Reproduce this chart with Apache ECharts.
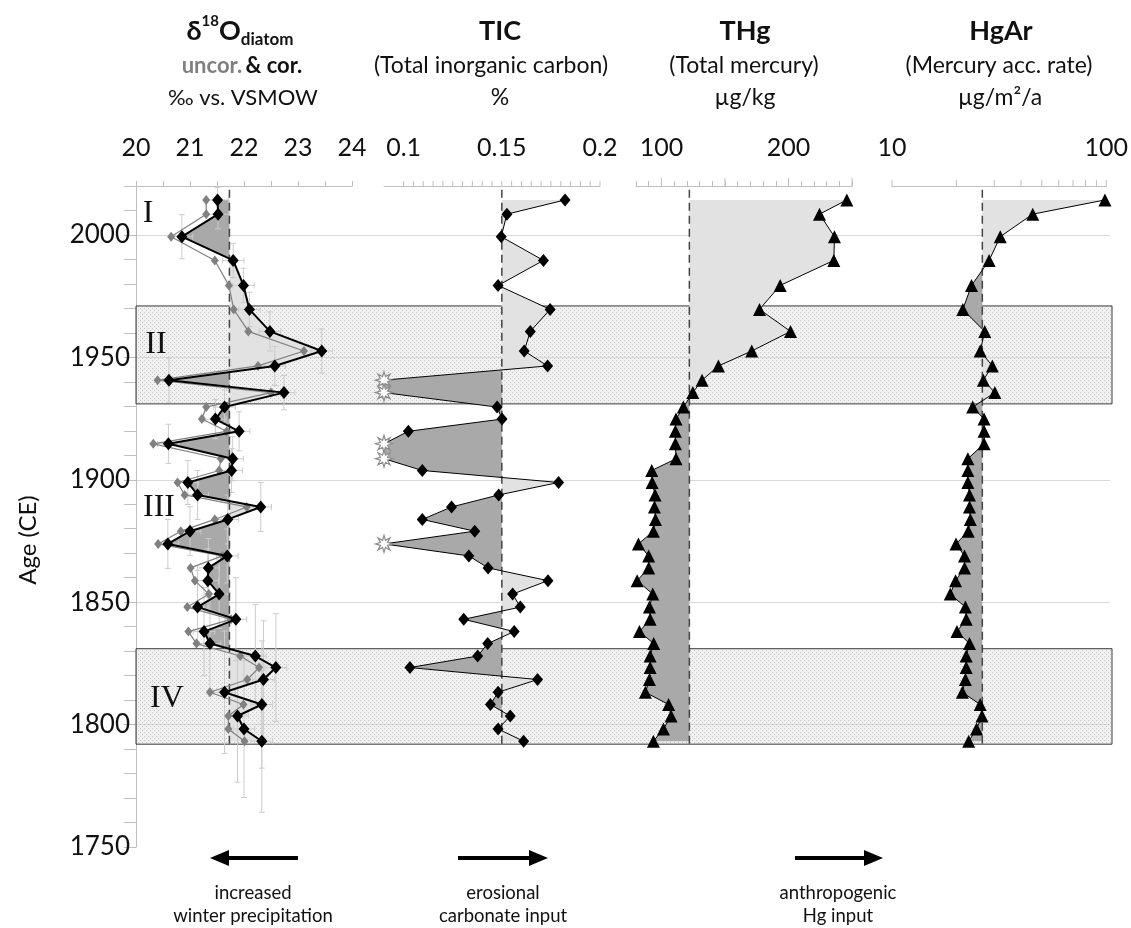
<!DOCTYPE html>
<html><head><meta charset="utf-8">
<script src="https://cdn.jsdelivr.net/npm/echarts@6/dist/echarts.min.js"></script>
<style>html,body{margin:0;padding:0;background:#fff}#c{width:1131px;height:928px}</style>
</head><body><div id="c"></div>
<script>
// ---------------- DATA ----------------
const ages = [2014.3, 2008.5, 1999.3, 1989.6, 1979.4, 1969.6, 1960.6, 1952.6, 1946.5, 1940.7, 1935.6, 1929.7, 1924.8, 1919.8, 1914.7, 1908.6, 1903.8, 1898.9, 1893.8, 1888.9, 1883.8, 1879.0, 1873.8, 1868.9, 1864.0, 1858.8, 1853.3, 1848.0, 1843.0, 1838.0, 1833.1, 1828.0, 1823.3, 1818.4, 1813.2, 1808.2, 1803.5, 1798.2, 1793.2];
const d18oCor = [21.51, 21.52, 20.85, 21.80, 21.99, 22.10, 22.48, 23.44, 22.57, 20.61, 22.74, 21.64, 21.47, 21.91, 20.60, 21.79, 21.77, 20.96, 21.14, 22.31, 21.70, 21.00, 20.59, 21.69, 21.34, 21.33, 21.54, 21.14, 21.85, 21.26, 21.37, 22.21, 22.59, 22.36, 21.64, 22.33, 21.88, 22.00, 22.33];
const d18oUncor = [21.30, 21.30, 20.65, 21.46, 21.72, 21.81, 22.08, 23.11, 22.26, 20.40, 22.50, 21.30, 21.22, 21.68, 20.32, 21.57, 21.54, 20.77, 20.90, 22.05, 21.46, 20.83, 20.41, 21.60, 21.01, 21.09, 21.35, 20.95, 21.76, 20.97, 21.12, 21.93, 22.28, 22.06, 21.37, 21.99, 21.71, 21.71, 22.01];
const d18oAgeErr = [5, 6, 9, 7, 7, 7, 8, 9, 8, 9, 7, 7, 8, 8, 8, 9, 9, 9, 10, 10, 10, 10, 10, 11, 12, 13, 14, 15, 17, 18, 19, 21, 22, 24, 25, 26, 27, 28, 29];
const d18oValErr = 0.2;
const ticValues = [0.1822, 0.1526, 0.1497, 0.1712, 0.1481, 0.1746, 0.1645, 0.1614, 0.1733, 'BDL', 'BDL', 0.1476, 0.1501, 0.1024, 'BDL', 'BDL', 0.1095, 0.1789, 0.1484, 0.1244, 0.1095, 0.1362, 'BDL', 0.1332, 0.1430, 0.1735, 0.1555, 0.1594, 0.1306, 0.1563, 0.1428, 0.1377, 0.1032, 0.1682, 0.1481, 0.1442, 0.1543, 0.1481, 0.1611];
const thgValues = [245.9, 224.4, 236.2, 235.7, 193.5, 177.2, 201.6, 171.1, 144.9, 132.0, 124.7, 117.3, 111.5, 111.0, 111.0, 111.5, 92.4, 92.7, 95.0, 94.5, 95.3, 93.7, 81.9, 90.0, 90.0, 80.9, 93.2, 90.6, 91.1, 82.7, 93.9, 91.1, 91.1, 90.6, 87.4, 105.7, 107.6, 101.6, 93.7];
const hgarValues = [98.6, 45.4, 32.0, 28.4, 23.5, 21.4, 27.1, 25.8, 29.4, 26.7, 30.2, 23.8, 26.9, 26.9, 26.9, 22.6, 22.6, 22.6, 23.0, 23.0, 23.2, 22.7, 19.9, 21.8, 21.8, 19.8, 18.7, 22.0, 22.2, 20.1, 23.0, 22.2, 22.2, 22.0, 21.3, 25.8, 26.3, 24.8, 22.8];
const meanD18o = 21.73, meanTic = 0.15, meanThg = 122, meanHgar = 26.4;
const zoneBands = [{label: 'II', from: 1931, to: 1971}, {label: 'IV', from: 1792, to: 1831}];
const zoneLabels = ['I', 'II', 'III', 'IV'];
const ageTickLabels = [1750, 1800, 1850, 1900, 1950, 2000];
const d18oTickLabels = [20, 21, 22, 23, 24];
const ticTickLabels = [0.1, 0.15, 0.2];
const ticTicks = [0.1, 0.105, 0.11, 0.115, 0.12, 0.125, 0.13, 0.135, 0.14, 0.145, 0.15, 0.155, 0.16, 0.165, 0.17, 0.175, 0.18, 0.185, 0.19, 0.195, 0.2];
const thgTickLabels = [100, 200];
const thgMajorTicks = [100, 150, 200, 250];
const hgarTicks = [10, 20, 30, 40, 50, 60, 70, 80, 90, 100];

// ---------------- STYLE ----------------
const FONT = 'Lato, "Open Sans", sans-serif';
const AX = '#bfbfbf';
const DARK = '#a9a9a9', LIGHT = '#e2e2e2';
const Y_MIN = 1750, Y_MAX = 2020, TIC_MIN = 0.09;
const STAR = 'path://M10 0 L11.72 5.84 L17.07 2.93 L14.16 8.28 L20 10 L14.16 11.72 L17.07 17.07 L11.72 14.16 L10 20 L8.28 14.16 L2.93 17.07 L5.84 11.72 L0 10 L5.84 8.28 L2.93 2.93 L8.28 5.84 Z';

const pat = document.createElement('canvas'); pat.width = 4; pat.height = 4;
const pg = pat.getContext('2d');
pg.fillStyle = 'rgba(215,215,215,0.35)'; pg.fillRect(0, 0, 4, 4);
pg.fillStyle = 'rgba(140,140,140,0.45)'; pg.fillRect(0, 0, 1, 1); pg.fillRect(2, 2, 1, 1);

const ticPlotVals = ticValues.map(v => v === 'BDL' ? TIC_MIN : v);

function fmtLabels(list) {
  return v => { const l = list.find(x => Math.abs(x - v) < 1e-9); return l === undefined ? '' : String(l); };
}
const LBL = {margin: 26, fontSize: 25, color: '#111', fontFamily: FONT};
function topAxis(grid, extra) {
  return Object.assign({
    gridIndex: grid, type: 'value', position: 'top',
    axisLine: {show: true, onZero: false, lineStyle: {color: AX, width: 1}},
    axisTick: {show: true, length: 5, inside: false, lineStyle: {color: AX}},
    splitLine: {show: false},
    axisLabel: Object.assign({show: true}, LBL)
  }, extra);
}
function hiddenY(grid) {
  return {gridIndex: grid, type: 'value', min: Y_MIN, max: Y_MAX, show: false};
}
function fillSeries(p, values, mean) {
  return {
    type: 'custom', xAxisIndex: p, yAxisIndex: p + 1, z: 2, silent: true, clip: false,
    data: [[0]],
    renderItem(params, api) {
      const pts = values.map((v, i) => api.coord([v, ages[i]]));
      const X = api.coord([mean, ages[0]])[0];
      const children = [];
      let run = [], side = null;
      const flush = () => {
        if (run.length < 1) return;
        const poly = [[X, run[0][1]]].concat(run, [[X, run[run.length - 1][1]]]);
        children.push({type: 'polygon', shape: {points: poly}, style: {fill: side < 0 ? DARK : LIGHT}});
      };
      for (let i = 0; i < pts.length; i++) {
        const pt = pts[i]; const s = pt[0] < X ? -1 : 1;
        if (side === null) { side = s; run = [pt]; continue; }
        if (s !== side) {
          const q = pts[i - 1]; const t = (X - q[0]) / (pt[0] - q[0]);
          const c = [X, q[1] + t * (pt[1] - q[1])];
          run.push(c); flush(); side = s; run = [c, pt];
        } else run.push(pt);
      }
      flush();
      return {type: 'group', children};
    }
  };
}
function meanLine(p, mean) {
  return {type: 'line', xAxisIndex: p, yAxisIndex: p + 1, z: 3, silent: true, symbol: 'none', clip: false,
    data: [[mean, Y_MAX - 1.5], [mean, ages[ages.length - 1] - 3]],
    lineStyle: {color: '#444', width: 1.5, type: [8, 5]}};
}
function tickSeries(p, vals, len) {
  return {type: 'custom', xAxisIndex: p, yAxisIndex: p + 1, z: 3, silent: true, clip: false,
    data: vals.map(v => [v]),
    renderItem(params, api) {
      const c = api.coord([api.value(0), Y_MAX]);
      return {type: 'line', shape: {x1: c[0], y1: c[1], x2: c[0], y2: c[1] - len}, style: {stroke: AX, lineWidth: 1}};
    }};
}
function profileLine(p, data, color, width, symbol, size, z) {
  return {type: 'line', xAxisIndex: p, yAxisIndex: p + 1, z: z, clip: false, silent: true,
    data: data, symbol: symbol, symbolSize: size, showSymbol: true,
    lineStyle: {color: color, width: width}, itemStyle: {color: color}};
}

const option = {
  animation: false,
  backgroundColor: '#fff',
  grid: [
    {left: 136, top: 186, width: 974, height: 661},
    {left: 136, top: 186, width: 216, height: 661},
    {left: 384, top: 186, width: 216, height: 661},
    {left: 636, top: 186, width: 216, height: 661},
    {left: 892, top: 186, width: 216, height: 661}
  ],
  xAxis: [
    {gridIndex: 0, type: 'value', min: 0, max: 1, show: false},
    topAxis(1, {min: 20, max: 24, interval: 0.5, axisLabel: Object.assign({formatter: fmtLabels(d18oTickLabels)}, LBL)}),
    topAxis(2, {min: TIC_MIN, max: 0.2, interval: 0.005, axisTick: {show: false}, axisLabel: Object.assign({formatter: fmtLabels(ticTickLabels)}, LBL)}),
    topAxis(3, {min: 80, max: 250, interval: 10, axisLabel: Object.assign({formatter: fmtLabels(thgTickLabels)}, LBL)}),
    topAxis(4, {type: 'log', logBase: 10, min: 10, max: 100, axisTick: {show: false}})
  ],
  yAxis: [
    {gridIndex: 0, type: 'value', min: Y_MIN, max: Y_MAX, interval: 10, position: 'left',
      axisLine: {show: true, lineStyle: {color: AX}},
      axisTick: {show: true, length: 12, lineStyle: {color: AX}},
      axisLabel: {margin: 6, fontSize: 26, color: '#111', fontFamily: FONT, formatter: fmtLabels(ageTickLabels)},
      splitLine: {show: false}},
    {gridIndex: 0, type: 'value', min: Y_MIN, max: Y_MAX, interval: 50, position: 'left',
      axisLine: {show: false}, axisTick: {show: false}, axisLabel: {show: false},
      splitLine: {show: true, showMinLine: false, showMaxLine: false, lineStyle: {color: '#d9d9d9', width: 1.2}}},
    hiddenY(1), hiddenY(2), hiddenY(3), hiddenY(4)
  ],
  series: [
    {type: 'line', xAxisIndex: 0, yAxisIndex: 0, z: 1, silent: true, symbol: 'none',
      data: [[0.5, Y_MIN]], lineStyle: {opacity: 0},
      markArea: {silent: true, itemStyle: {color: {image: pat, repeat: 'repeat'}, borderColor: '#3a3a3a', borderWidth: 1},
        data: zoneBands.map(z => [{yAxis: z.to, x: 136}, {yAxis: z.from, x: 1112}])}},
    fillSeries(1, d18oCor, meanD18o),
    fillSeries(2, ticPlotVals, meanTic),
    fillSeries(3, thgValues, meanThg),
    fillSeries(4, hgarValues, meanHgar),
    meanLine(1, meanD18o), meanLine(2, meanTic), meanLine(3, meanThg), meanLine(4, meanHgar),
    tickSeries(2, ticTicks, 5),
    tickSeries(3, thgMajorTicks, 8),
    tickSeries(4, hgarTicks, 6),
    {type: 'custom', xAxisIndex: 1, yAxisIndex: 2, z: 3, silent: true, clip: false,
      data: ages.map((a, i) => [d18oCor[i], a, d18oAgeErr[i]]),
      encode: {x: 0, y: 1},
      renderItem(params, api) {
        const v = api.value(0), a = api.value(1), e = api.value(2);
        const t = api.coord([v, a + e]), b = api.coord([v, a - e]);
        const l = api.coord([v - d18oValErr, a]), r = api.coord([v + d18oValErr, a]);
        const st = {stroke: '#cccccc', lineWidth: 1};
        const cap = 3;
        const ln = (x1, y1, x2, y2) => ({type: 'line', shape: {x1, y1, x2, y2}, style: st});
        return {type: 'group', children: [
          ln(t[0], t[1], b[0], b[1]), ln(t[0] - cap, t[1], t[0] + cap, t[1]), ln(b[0] - cap, b[1], b[0] + cap, b[1]),
          ln(l[0], l[1], r[0], r[1]), ln(l[0], l[1] - cap, l[0], l[1] + cap), ln(r[0], r[1] - cap, r[0], r[1] + cap)
        ]};
      }},
    profileLine(1, ages.map((a, i) => [d18oUncor[i], a]), '#808080', 1.2, 'diamond', [8, 10], 4),
    profileLine(1, ages.map((a, i) => [d18oCor[i], a]), '#000', 2, 'diamond', [11, 13], 5),
    profileLine(2, ages.map((a, i) => ticValues[i] === 'BDL'
        ? {value: [TIC_MIN, a], symbol: STAR, symbolSize: 17, itemStyle: {color: '#fff', borderColor: '#8c8c8c', borderWidth: 1.2}}
        : [ticValues[i], a]), '#000', 1, 'diamond', [11, 13], 5),
    profileLine(3, ages.map((a, i) => [thgValues[i], a]), '#000', 1, 'triangle', 13, 5),
    profileLine(4, ages.map((a, i) => [hgarValues[i], a]), '#000', 1, 'triangle', 13, 5)
  ],
  graphic: []
};

// ---------------- TEXT ANNOTATIONS ----------------
function txt(x, y, text, font, fill, extra) {
  return Object.assign({type: 'text', x: x, y: y, z: 100, silent: true,
    style: {text: text, font: font, fill: fill || '#111', align: 'center', verticalAlign: 'middle', textAlign: 'center', textVerticalAlign: 'middle'}}, extra || {});
}
const G = option.graphic;
G.push({type: 'text', x: 240, y: 31, z: 100, silent: true, style: {
  text: '{m|δ}{sup|18}{m|O}{sub|diatom}', align: 'center', verticalAlign: 'middle', textAlign: 'center', textVerticalAlign: 'middle',
  rich: {
    m: {font: 'bold 27px ' + FONT, lineHeight: 34, fill: '#111'},
    sup: {font: 'bold 15px ' + FONT, verticalAlign: 'top', fill: '#111'},
    sub: {font: 'bold 17px ' + FONT, verticalAlign: 'bottom', fill: '#111'}
  }}});
G.push({type: 'text', x: 242, y: 66, z: 100, silent: true, style: {
  text: '{g|uncor.} {k|& cor.}', align: 'center', verticalAlign: 'middle', textAlign: 'center', textVerticalAlign: 'middle',
  rich: {g: {font: 'bold 22px ' + FONT, fill: '#808080'}, k: {font: 'bold 22px ' + FONT, fill: '#111'}}}});
G.push(txt(243, 98, '‰ vs. VSMOW', '22px ' + FONT));
G.push(txt(500, 31, 'TIC', 'bold 27px ' + FONT));
G.push(txt(491, 66, '(Total inorganic carbon)', '23px ' + FONT));
G.push(txt(500, 98, '%', '23px ' + FONT));
G.push(txt(745, 31, 'THg', 'bold 27px ' + FONT));
G.push(txt(744, 66, '(Total mercury)', '23px ' + FONT));
G.push(txt(745, 98, 'µg/kg', '23px ' + FONT));
G.push(txt(1001, 31, 'HgAr', 'bold 27px ' + FONT));
G.push(txt(999, 66, '(Mercury acc. rate)', '23px ' + FONT));
G.push(txt(1000, 98, 'µg/m²/a', '23px ' + FONT));
G.push(txt(28, 540, 'Age (CE)', '24px ' + FONT, '#111', {rotation: Math.PI / 2}));
const romanPos = [[148, 214], [156, 345], [159, 508], [167, 699]];
zoneLabels.forEach((z, i) => G.push(txt(romanPos[i][0], romanPos[i][1], z, '32px "Liberation Serif", serif', '#111')));
// arrows
function arrow(xFrom, xTo, y) {
  const dir = xTo > xFrom ? 1 : -1;
  G.push({type: 'line', z: 100, silent: true, shape: {x1: xFrom, y1: y, x2: xTo - dir * 16, y2: y}, style: {stroke: '#000', lineWidth: 4}});
  G.push({type: 'polygon', z: 100, silent: true, shape: {points: [[xTo, y], [xTo - dir * 19, y - 8], [xTo - dir * 19, y + 8]]}, style: {fill: '#000'}});
}
arrow(298, 210, 858); arrow(458, 548, 858); arrow(795, 883, 858);
const BF = '18.5px ' + FONT;
G.push(txt(253, 893, 'increased', BF));
G.push(txt(253, 916, 'winter precipitation', BF));
G.push(txt(503, 893, 'erosional', BF));
G.push(txt(503, 916, 'carbonate input', BF));
G.push(txt(838, 893, 'anthropogenic', BF));
G.push(txt(838, 916, 'Hg input', BF));

const chart = echarts.init(document.getElementById('c'), null, {renderer: 'canvas'});
chart.setOption(option);
</script>
</body></html>
